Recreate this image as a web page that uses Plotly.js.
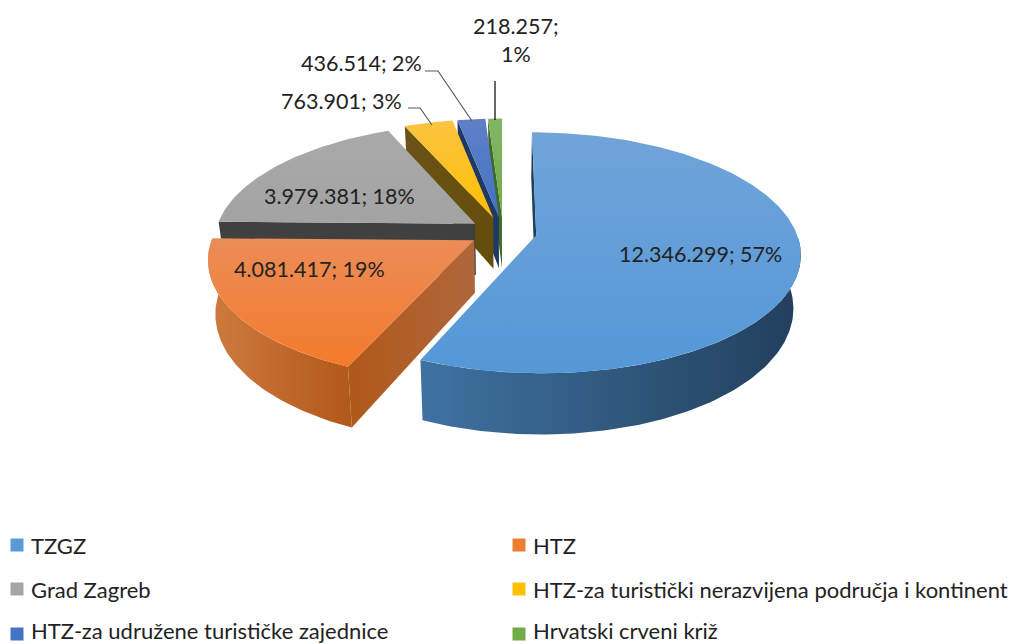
<!DOCTYPE html>
<html>
<head>
<meta charset="utf-8">
<script src="https://cdn.plot.ly/plotly-3.0.1.min.js"></script>
<style>html,body{margin:0;padding:0;background:#fff;overflow:hidden}</style>
</head>
<body>
<div id="chart" style="width:1012px;height:644px"></div>
<script>
const categories = ["TZGZ","HTZ","Grad Zagreb","HTZ-za turistički nerazvijena područja i kontinent","HTZ-za udružene turističke zajednice","Hrvatski crveni križ"];
const values = [12346299,4081417,3979381,763901,436514,218257];
const valueLabels = ["12.346.299; 57%","4.081.417; 19%","3.979.381; 18%","763.901; 3%","436.514; 2%","218.257;<br>1%"];
const colors = ["#5B9BD5","#ED7D31","#A5A5A5","#FFC000","#4472C4","#70AD47"];
const topGrad = [["#5498D8","#71A4D9"],["#F37A2B","#EC8C58"],["#A3A3A3","#A9A9A9"],["#FFC000","#FBC342"],["#4472C4","#5F80C7"],["#70AD47","#82B566"]];
const radialWall = [["#1F3F5C","#1F3F5C"],["#B1581A","#AF663C"],["#404040","#404040"],["#6B5216","#644E0C"],["#1F3864","#1F3864"],["#3F6A28","#3F6A28"]];
const arcWall = [["#3F72A1","#223F5C"],["#CF7B40","#B1581A"],["#404040","#404040"],["#6B5216","#644E0C"],["#1F3864","#1F3864"],["#3F6A28","#3F6A28"]];
const labelX = [700,309,339,403,423,516];
const labelY = [254,269,196,101,63,40];
const labelAnchor = ["center","center","center","right","right","center"];
const legendX = [17,519,17,519,17,519];
const legendY = [545,545,589,589,634,634];
const legendTextY = [545,545,589,589,630,630];
const leaderX = [[408,420,432],[425,438,472],[495,495]];
const leaderY = [[108,108,125],[71,71,121],[81,120]];
const leaderColor = ["#595959","#595959","#000000"];

// projection parameters of the tilted pie
const cx = 503, cy = 232, R = 260, A = 117, persp = 0.146, explode = 0.13, depth = 52, shrink = 0.975;

const total = values.reduce((a,b)=>a+b,0);
const rad = d => d*Math.PI/180;
function project(U,V){ const k = 1/(1-persp*V); return [cx+R*U*k, cy+A*V*k]; }
function lower(U,V){
  const p = project(U,V), k = 1/(1-persp*V);
  return [cx+(p[0]-cx)*shrink, p[1]+depth*k];
}
function poly(pts,grad,type){
  return {x:pts.map(p=>p[0]), y:pts.map(p=>p[1]), mode:"lines", fill:"toself",
    line:{width:0,color:"rgba(0,0,0,0)"}, fillcolor:grad[1],
    fillgradient:{type:type,colorscale:[[0,grad[0]],[1,grad[1]]]},
    hoverinfo:"skip", showlegend:false};
}
const slices = [];
let acc = 0;
values.forEach((v,i)=>{
  const a0 = acc/total*360, a1 = (acc+v)/total*360; acc += v;
  slices.push({i,a0,a1});
});
const traces = [];
[...slices].reverse().forEach(s=>{
  const bis = rad((s.a0+s.a1)/2);
  const ex = explode*Math.sin(bis), ey = -explode*Math.cos(bis);
  const pt = d => [ex+Math.sin(rad(d)), ey-Math.cos(rad(d))];
  // visible radial wall
  if (Math.sin(rad(s.a0))<=0.001){
    const o = pt(s.a0);
    traces.push(poly([project(o[0],o[1]),project(ex,ey),lower(ex,ey),lower(o[0],o[1])],radialWall[s.i],"horizontal"));
  }
  // outer wall, front part only
  const arc = [];
  const n = Math.max(8,Math.ceil((s.a1-s.a0)));
  for(let k=0;k<=n;k++){
    const d = s.a0+(s.a1-s.a0)*k/n;
    if (Math.cos(rad(d))<0) arc.push(pt(d));
  }
  if (arc.length>1){
    const side = arc.map(p=>project(p[0],p[1])).concat(arc.slice().reverse().map(p=>lower(p[0],p[1])));
    traces.push(poly(side,arcWall[s.i],"horizontal"));
  }
  // top face
  const face = [project(ex,ey)];
  for(let k=0;k<=n;k++){
    const d = s.a0+(s.a1-s.a0)*k/n;
    const p = pt(d);
    face.push(project(p[0],p[1]));
  }
  face.push(project(ex,ey));
  traces.push(poly(face,topGrad[s.i],"vertical"));
});
leaderX.forEach((xs,i)=>{
  traces.push({x:xs,y:leaderY[i],mode:"lines",line:{color:leaderColor[i],width:1.2},hoverinfo:"skip",showlegend:false});
});
categories.forEach((c,i)=>{
  traces.push({x:[legendX[i]],y:[legendY[i]],mode:"markers",name:c,
    marker:{symbol:"square",size:13,color:colors[i]},hoverinfo:"skip",showlegend:false});
});
const labelFont = {family:"Lato, 'Open Sans', sans-serif",size:21.5,color:"#222222"};
const legendFont = {family:"Lato, 'Open Sans', sans-serif",size:22,color:"#222222"};
const annotations = [];
valueLabels.forEach((t,i)=>{
  annotations.push({x:labelX[i],y:labelY[i],xref:"x",yref:"y",text:t,showarrow:false,
    xanchor:labelAnchor[i],yanchor:"middle",align:"center",font:labelFont,borderpad:0});
});
categories.forEach((c,i)=>{
  annotations.push({x:legendX[i]+13,y:legendTextY[i],xref:"x",yref:"y",text:c,showarrow:false,
    xanchor:"left",yanchor:"middle",font:legendFont,borderpad:0});
});
Plotly.newPlot("chart",traces,{
  width:1012,height:644,margin:{l:0,r:0,t:0,b:0},
  paper_bgcolor:"#fff",plot_bgcolor:"#fff",showlegend:false,
  xaxis:{range:[0,1012],visible:false,fixedrange:true},
  yaxis:{range:[644,0],visible:false,fixedrange:true},
  annotations:annotations
},{displayModeBar:false,staticPlot:true});
</script>
</body>
</html>
